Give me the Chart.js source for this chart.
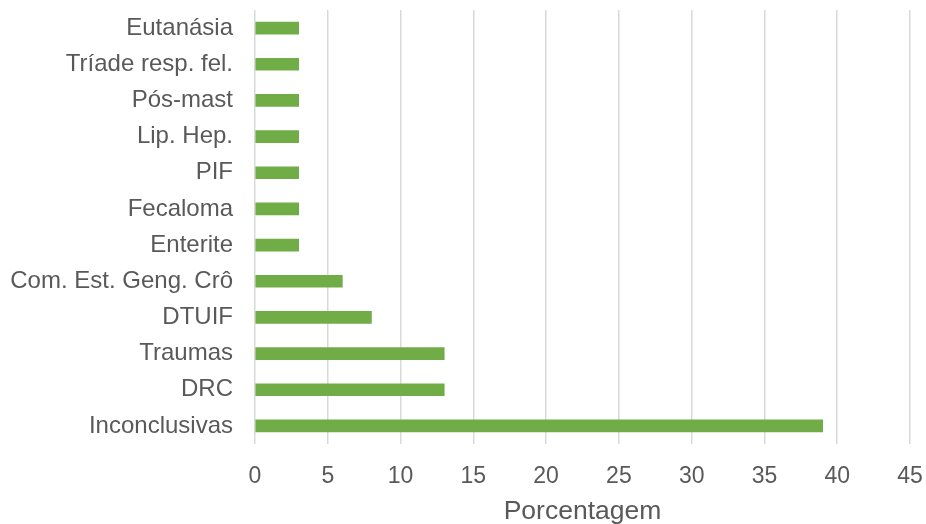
<!DOCTYPE html>
<html>
<head>
<meta charset="utf-8">
<script src="https://cdn.jsdelivr.net/npm/chart.js@4"></script>
<style>
html,body{margin:0;padding:0;background:#fff;}
#wrap{width:926px;height:524px;position:relative;}
</style>
</head>
<body>
<div id="wrap"><canvas id="c" width="926" height="524"></canvas></div>
<script>
const categories = ["Eutanásia","Tríade resp. fel.","Pós-mast","Lip. Hep.","PIF","Fecaloma","Enterite","Com. Est. Geng. Crô","DTUIF","Traumas","DRC","Inconclusivas"];
const values = [3,3,3,3,3,3,3,6,8,13,13,39];
const xTicks = [0,5,10,15,20,25,30,35,40,45];
const xTitle = "Porcentagem";

const textColor = "#595959";
const font = "'Liberation Sans', Arial, sans-serif";

new Chart(document.getElementById("c"), {
  type: "bar",
  data: {
    labels: categories,
    datasets: [{
      data: values,
      backgroundColor: "#70AD47",
      barThickness: 12
    }]
  },
  options: {
    indexAxis: "y",
    responsive: false,
    animation: false,
    layout: { padding: { top: 10, right: 0, left: 0, bottom: 0 } },
    plugins: { legend: { display: false }, tooltip: { enabled: false } },
    scales: {
      x: {
        min: 0, max: 45,
        afterBuildTicks: s => { s.ticks = xTicks.map(v => ({ value: v })); },
        grid: { color: "#d9d9d9", lineWidth: 1.5, drawTicks: false },
        border: { display: false },
        ticks: { color: textColor, font: { family: font, size: 23 }, padding: 19, maxRotation: 0 },
        title: { display: true, text: xTitle, color: textColor, font: { family: font, size: 26.5 }, padding: { top: 0, bottom: -4 } },
        afterFit: s => { s.height = 80; s.paddingLeft = 0; s.paddingRight = 16; }
      },
      y: {
        grid: { display: false, drawTicks: false },
        border: { display: false },
        ticks: { color: textColor, font: { family: font, size: 24 }, padding: 22, autoSkip: false },
        afterFit: s => { s.width = 255; s.paddingTop = 0; s.paddingBottom = 0; }
      }
    }
  }
});
</script>
</body>
</html>
